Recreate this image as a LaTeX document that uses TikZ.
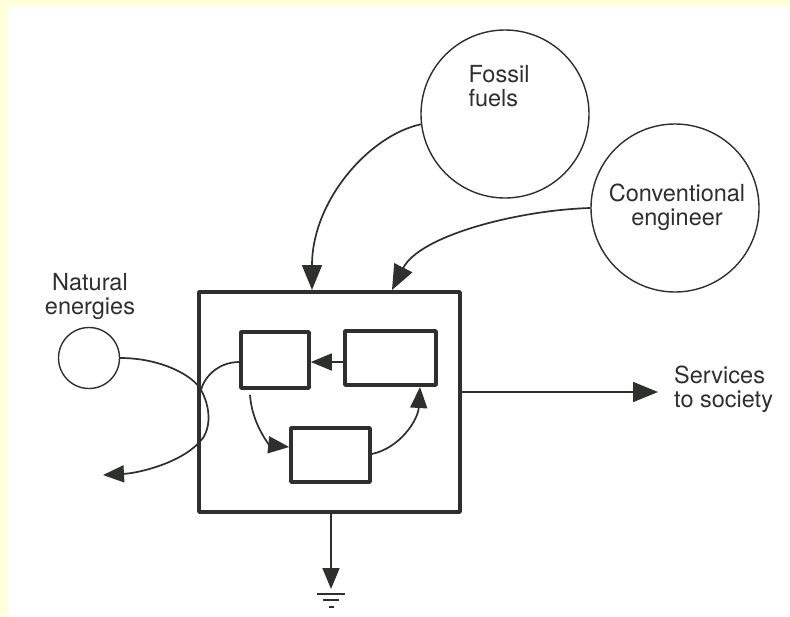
\documentclass[tikz,border=0pt]{standalone}
\usepackage{fontspec}
\setmainfont{TeX Gyre Heros}
\usetikzlibrary{arrows.meta,calc}
\definecolor{bgyellow}{RGB}{255,255,218}
\definecolor{ink}{RGB}{45,48,45}
\begin{document}
\begin{tikzpicture}[x=1pt,y=-1pt,line join=round,
  thinline/.style={draw=ink,line width=1.7pt},
  arr/.style={thinline,-{Triangle[length=21pt,width=17pt]}},
  bigarr/.style={thinline,-{Triangle[length=25pt,width=20pt]}},
  circ/.style={circle,draw=ink,line width=1.4pt,inner sep=0pt},
  box/.style={rectangle,draw=ink,line width=3.6pt,inner sep=0pt},
  lbl/.style={font=\fontsize{23.5}{24}\selectfont,text=ink,inner sep=0pt}]
\fill[bgyellow] (0,0) rectangle (790,616);
\fill[white] (7,6) rectangle (790,616);
\useasboundingbox (0,0) rectangle (790,616);

% circles
\node[circ,minimum size=168pt] (fossil) at (505,114) {};
\node[lbl,align=left] (fossiltxt) at (499,86) {Fossil\\fuels};
\node[circ,minimum size=168pt] (conv) at (675,208) {};
\node[lbl,align=center] (convtxt) at (677,207) {Conventional\\engineer};
\node[circ,minimum size=61pt] (nat) at (89,358) {};
\node[lbl,align=center] (nattxt) at (90,296) {Natural\\energies};

% boxes
\node[box,minimum width=261pt,minimum height=220pt] (big) at (329.5,402) {};
\node[box,minimum width=68pt,minimum height=56pt] (A) at (275,360) {};
\node[box,minimum width=91pt,minimum height=54pt] (B) at (390.5,358) {};
\node[box,minimum width=79pt,minimum height=54pt] (C) at (330.5,455) {};

% external arrows
\draw[bigarr] (fossil.187) .. controls (370,135) and (312,200) .. (312,290);
\draw[bigarr] (conv.west) .. controls (520,210) and (420,235) .. (392,290);

\coordinate (serv) at (658,392);
\draw[bigarr] (big.east |- serv) -- (serv);
\node[lbl,align=left,anchor=west] (servtxt) at (674,389) {Services\\to society};

% inner loop
\draw[arr] (B.west |- 0,362) -- (A.east |- 0,362);
\draw[arr] ($(A.south)+(-25,5)$) .. controls (252,425) and (270,445) .. (C.west |- 0,447);
\draw[arr] (C.east |- 0,454) .. controls (400,448) and (418,420) .. (420,387);

% natural energies flow
\coordinate (meet) at (201,390);
\coordinate (natout) at (103,475);
\draw[arr] (nat.east) .. controls (160,358) and (193,375) .. (meet)
  .. controls (209,404) and (212,424) .. (203,438)
  .. controls (185,462) and (140,473) .. (natout);
\draw[thinline] (A.west |- 0,362) .. controls (220,362) and (205,375) .. (meet);

% ground
\coordinate (gnd) at (331,589);
\draw[arr] (big.south -| gnd) -- (gnd);
\draw[thinline] (317,594) -- (345,594);
\draw[thinline] (323,600) -- (339,600);
\draw[thinline] (328.5,607) -- (333.5,607);
\end{tikzpicture}
\end{document}
